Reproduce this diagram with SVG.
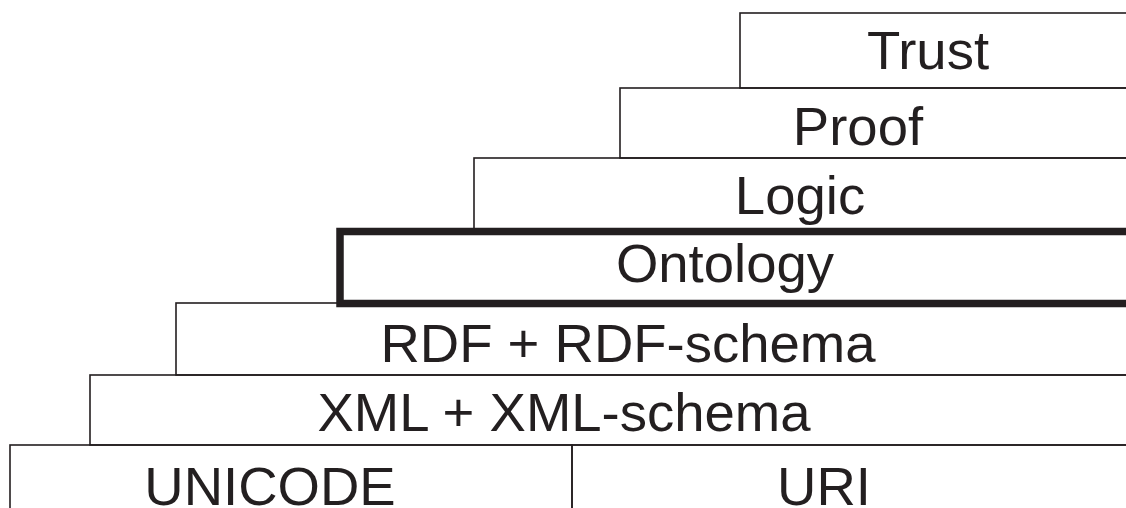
<svg xmlns="http://www.w3.org/2000/svg" width="1126" height="508" viewBox="0 0 1126 508">
  <style>
    .box { fill: none; stroke: #231f20; stroke-width: 1.6; }
    .thick { fill: none; stroke: #231f20; stroke-width: 7.5; }
    .lbl { font-family: "Liberation Sans", Arial, sans-serif; font-size: 54.5px; fill: #231f20; text-anchor: middle; }
  </style>
  <rect width="1126" height="508" fill="#ffffff"/>

  <!-- Layer stack: each layer's right edge runs past the canvas -->
  <g id="trust">
    <rect class="box" x="740" y="13" width="420" height="75"/>
    <text class="lbl" x="928" y="69">Trust</text>
  </g>
  <g id="proof">
    <rect class="box" x="620" y="88" width="540" height="70"/>
    <text class="lbl" x="858" y="145">Proof</text>
  </g>
  <g id="logic">
    <rect class="box" x="474" y="158" width="690" height="73"/>
    <text class="lbl" x="800" y="214">Logic</text>
  </g>
  <g id="rdf">
    <rect class="box" x="176" y="303" width="990" height="72"/>
    <text class="lbl" x="628" y="362">RDF + RDF-schema</text>
  </g>
  <g id="xml">
    <rect class="box" x="90" y="375" width="1080" height="70"/>
    <text class="lbl" x="564" y="431">XML + XML-schema</text>
  </g>
  <g id="unicode">
    <rect class="box" x="10" y="445" width="562" height="80"/>
    <text class="lbl" x="270" y="505">UNICODE</text>
  </g>
  <g id="uri">
    <rect class="box" x="572" y="445" width="600" height="80"/>
    <text class="lbl" x="824" y="505">URI</text>
  </g>
  <g id="ontology">
    <rect class="thick" x="340" y="231.5" width="830" height="72"/>
    <text class="lbl" x="725" y="282">Ontology</text>
  </g>

  <!-- no connectors in this layered figure -->
  <g id="connectors"/>
</svg>
